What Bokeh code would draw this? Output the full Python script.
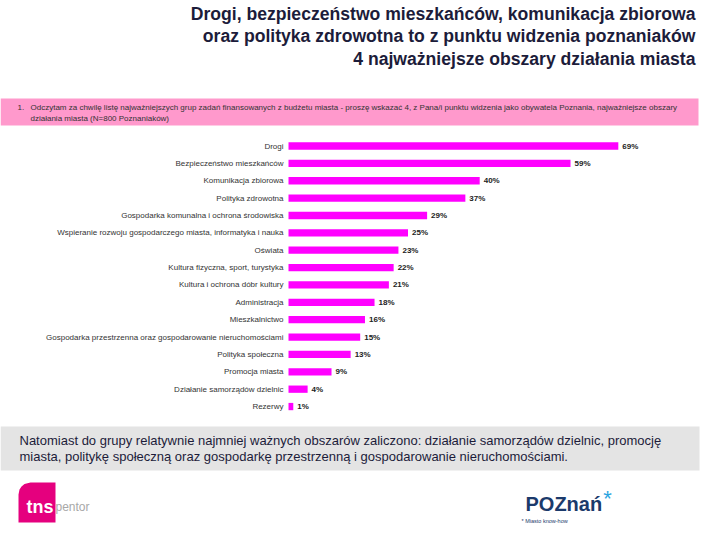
import numpy as np
from bokeh.plotting import figure
from bokeh.models import Range1d, ColumnDataSource
from bokeh.core.properties import value
from bokeh.embed import file_html
from bokeh.resources import INLINE

# ---------------- data ----------------
categories = [
    "Drogi",
    "Bezpieczeństwo mieszkańców",
    "Komunikacja zbiorowa",
    "Polityka zdrowotna",
    "Gospodarka komunalna i ochrona środowiska",
    "Wspieranie rozwoju gospodarczego miasta, informatyka i nauka",
    "Oświata",
    "Kultura fizyczna, sport, turystyka",
    "Kultura i ochrona dóbr kultury",
    "Administracja",
    "Mieszkalnictwo",
    "Gospodarka przestrzenna oraz gospodarowanie nieruchomościami",
    "Polityka społeczna",
    "Promocja miasta",
    "Działanie samorządów dzielnic",
    "Rezerwy",
]
values = [69, 59, 40, 37, 29, 25, 23, 22, 21, 18, 16, 15, 13, 9, 4, 1]
value_labels = [f"{v}%" for v in values]

title_lines = [
    "Drogi, bezpieczeństwo mieszkańców, komunikacja zbiorowa",
    "oraz polityka zdrowotna to z punktu widzenia poznaniaków",
    "4 najważniejsze obszary działania miasta",
]
question_lines = [
    "Odczytam za chwilę listę najważniejszych grup zadań finansowanych z budżetu miasta - proszę wskazać 4, z Pana/i punktu widzenia jako obywatela Poznania, najważniejsze obszary",
    "działania miasta (N=800 Poznaniaków)",
]
note_lines = [
    "Natomiast do grupy relatywnie najmniej ważnych obszarów zaliczono: działanie samorządów dzielnic, promocję",
    "miasta, politykę społeczną oraz gospodarkę przestrzenną i gospodarowanie nieruchomościami.",
]

# ---------------- figure ----------------
W, H = 704, 524
FONT = value("Liberation Sans")

p = figure(width=W, height=H, x_range=Range1d(0, W), y_range=Range1d(H, 0),
           output_backend="svg", toolbar_location=None,
           x_axis_location=None, y_axis_location=None,
           min_border=0, outline_line_color=None)
p.grid.visible = False
p.background_fill_color = "white"
p.border_fill_color = "white"

# scales for the bar chart
PX_PER_PCT = 4.78
X0 = 288
STEP = 17.37
Y0 = 145.5
p.extra_x_ranges = {"pct": Range1d(-X0 / PX_PER_PCT, (W - X0) / PX_PER_PCT)}
p.extra_y_ranges = {"cat": Range1d((H - Y0) / STEP, -Y0 / STEP)}

src = ColumnDataSource(dict(y=np.arange(len(categories)), v=values,
                            cat=categories, lab=value_labels))

# ---------------- title ----------------
for i, line in enumerate(title_lines):
    p.text(x=[695], y=[13 + i * 22.5], text=[line], text_align="right",
           text_baseline="middle", text_font=FONT, text_font_style="bold",
           text_font_size="17.6px", text_color="#1c1c3a")

# ---------------- question box ----------------
p.quad(left=[0], right=[698], top=[98], bottom=[125], fill_color="#ff99cc",
       line_color=None)
p.text(x=[17], y=[107], text=["1."], text_baseline="middle", text_font=FONT,
       text_font_size="8px", text_color="#333333")
for i, line in enumerate(question_lines):
    p.text(x=[30], y=[107 + i * 11], text=[line], text_baseline="middle",
           text_font=FONT, text_font_size="8px", text_color="#333333")

# ---------------- bars ----------------
p.hbar(y="y", left=0, right="v", height=0.42, source=src,
       x_range_name="pct", y_range_name="cat",
       fill_color="#ff00ff", line_color=None)
p.text(x=0, y="y", text="cat", source=src, x_offset=-5, text_align="right",
       text_baseline="middle", text_font=FONT, text_font_size="8px",
       text_color="#333333", x_range_name="pct", y_range_name="cat")
p.text(x="v", y="y", text="lab", source=src, x_offset=4, text_align="left",
       text_baseline="middle", text_font=FONT, text_font_style="bold",
       text_font_size="8px", text_color="#222222",
       x_range_name="pct", y_range_name="cat")

# ---------------- note box ----------------
p.quad(left=[0], right=[699], top=[426], bottom=[470], fill_color="#e4e4e4",
       line_color=None)
for i, line in enumerate(note_lines):
    p.text(x=[19], y=[440 + i * 16], text=[line], text_baseline="middle",
           text_font=FONT, text_font_size="13px", text_color="#1c1c3a")

# ---------------- logos ----------------
logo_x = [18, 55, 55, 18, 18, 19, 21, 24, 30]
logo_y = [482, 482, 522, 522, 494, 489, 486, 483.5, 482]
p.patch(x=logo_x, y=logo_y, fill_color="#e5007e", line_color=None)
p.text(x=[26], y=[506], text=["tns"], text_baseline="middle", text_font=FONT,
       text_font_style="bold", text_font_size="18px", text_color="white")
p.text(x=[55], y=[506], text=["pentor"], text_baseline="middle",
       text_font=FONT, text_font_size="12px", text_color="#a8a8a8")

p.text(x=[525], y=[503], text=["POZnań"], text_baseline="middle",
       text_font=FONT, text_font_style="bold", text_font_size="20px",
       text_color="#1b3a6b")
p.text(x=[607], y=[498], text=["*"], text_baseline="middle", text_align="center",
       text_font=FONT, text_font_size="22px", text_color="#2aa4e0")
p.text(x=[521], y=[520], text=["* Miasto know-how"], text_baseline="middle",
       text_font=FONT, text_font_size="5.5px", text_color="#1b3a6b")

open("out.html", "w").write(file_html(p, INLINE))
